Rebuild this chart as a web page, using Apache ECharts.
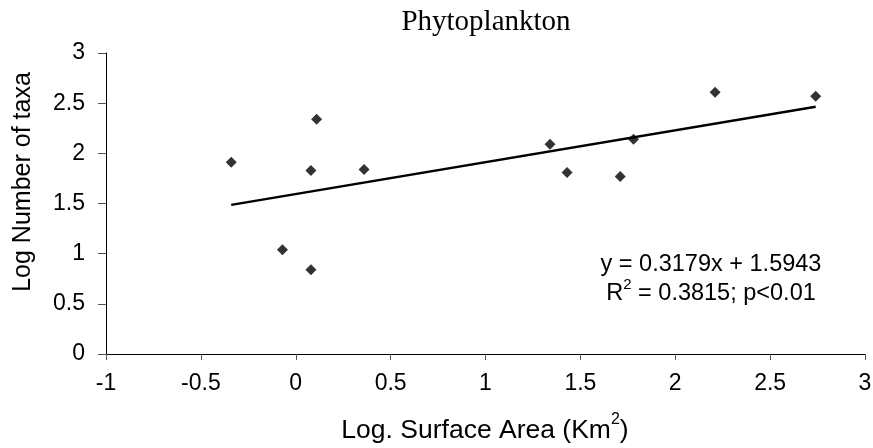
<!DOCTYPE html>
<html>
<head>
<meta charset="utf-8">
<script src="https://cdn.jsdelivr.net/npm/echarts@6/dist/echarts.min.js"></script>
<style>
html,body{margin:0;padding:0;background:#fff;}
#chart{width:873px;height:448px;}
</style>
</head>
<body>
<div id="chart"></div>
<script>
// Data
var surfaceArea = [-0.34, -0.07, 0.08, 0.08, 0.11, 0.36, 1.34, 1.43, 1.71, 1.78, 2.21, 2.74];
var numberTaxa  = [1.91, 1.04, 0.84, 1.83, 2.34, 1.84, 2.09, 1.81, 1.77, 2.14, 2.61, 2.57];
// Printed regression (y = slope*x + intercept), drawn over the data range
var slope = 0.3179, intercept = 1.5943;
var trendX = [-0.34, 2.74];
var xTicks = {min: -1, max: 3, interval: 0.5};
var yTicks = {min: 0, max: 3, interval: 0.5};
var titleText = 'Phytoplankton';
var eqLine1 = 'y = 0.3179x + 1.5943';

var points = surfaceArea.map(function (x, i) { return [x, numberTaxa[i]]; });
var trend = trendX.map(function (x) { return [x, slope * x + intercept]; });

var sans = '"Liberation Sans", Arial, sans-serif';
var chart = echarts.init(document.getElementById('chart'), null, {renderer: 'canvas'});
chart.setOption({
  backgroundColor: '#fff',
  animation: false,
  grid: {left: 106, right: 8, top: 53, bottom: 94, outerBoundsMode: 'none', containLabel: false},
  xAxis: {
    type: 'value', min: xTicks.min, max: xTicks.max, interval: xTicks.interval,
    axisLine: {onZero: false, lineStyle: {color: '#000', width: 1}},
    axisTick: {show: true, inside: false, length: 6, lineStyle: {color: '#555'}},
    axisLabel: {margin: 18, color: '#000', fontSize: 23, fontFamily: sans},
    splitLine: {show: false}
  },
  yAxis: {
    type: 'value', min: yTicks.min, max: yTicks.max, interval: yTicks.interval,
    axisLine: {show: true, onZero: false, lineStyle: {color: '#000', width: 1}},
    axisTick: {show: true, inside: false, length: 8, lineStyle: {color: '#555'}},
    axisLabel: {margin: 21, color: '#000', fontSize: 23, fontFamily: sans},
    splitLine: {show: false}
  },
  series: [
    {
      type: 'scatter', data: points, symbol: 'diamond', symbolSize: 11,
      itemStyle: {color: '#000'}, z: 3
    },
    {
      type: 'line', data: trend, symbol: 'none',
      lineStyle: {color: '#000', width: 2.5}, z: 2
    }
  ],
  graphic: [
    {
      type: 'text', x: 486, y: 22,
      style: {text: titleText, font: '29px "Liberation Serif", "Times New Roman", serif', fill: '#000', align: 'center', verticalAlign: 'middle'}
    },
    {
      type: 'text', x: 23, y: 182, rotation: Math.PI / 2,
      style: {text: 'Log Number of taxa', fontSize: 25, fontFamily: sans, fill: '#000', align: 'center', verticalAlign: 'middle'}
    },
    {
      type: 'text', x: 485, y: 431,
      style: {
        text: '{n|Log. Surface Area (Km}{s|2}{n|)}',
        align: 'center', verticalAlign: 'middle',
        rich: {
          n: {fontSize: 26.5, lineHeight: 38, fontFamily: sans, fill: '#000', color: '#000'},
          s: {fontSize: 16, lineHeight: 17, fontFamily: sans, fill: '#000', color: '#000', verticalAlign: 'top'}
        }
      }
    },
    {
      type: 'text', x: 711, y: 265,
      style: {text: eqLine1, fontSize: 23.5, fontFamily: sans, fill: '#000', align: 'center', verticalAlign: 'middle'}
    },
    {
      type: 'text', x: 711, y: 294,
      style: {
        text: '{n|R}{s|2}{n| = 0.3815; p<0.01}',
        align: 'center', verticalAlign: 'middle',
        rich: {
          n: {fontSize: 23.5, lineHeight: 34, fontFamily: sans, fill: '#000', color: '#000'},
          s: {fontSize: 15, lineHeight: 16, fontFamily: sans, fill: '#000', color: '#000', verticalAlign: 'top'}
        }
      }
    }
  ]
});
</script>
</body>
</html>
